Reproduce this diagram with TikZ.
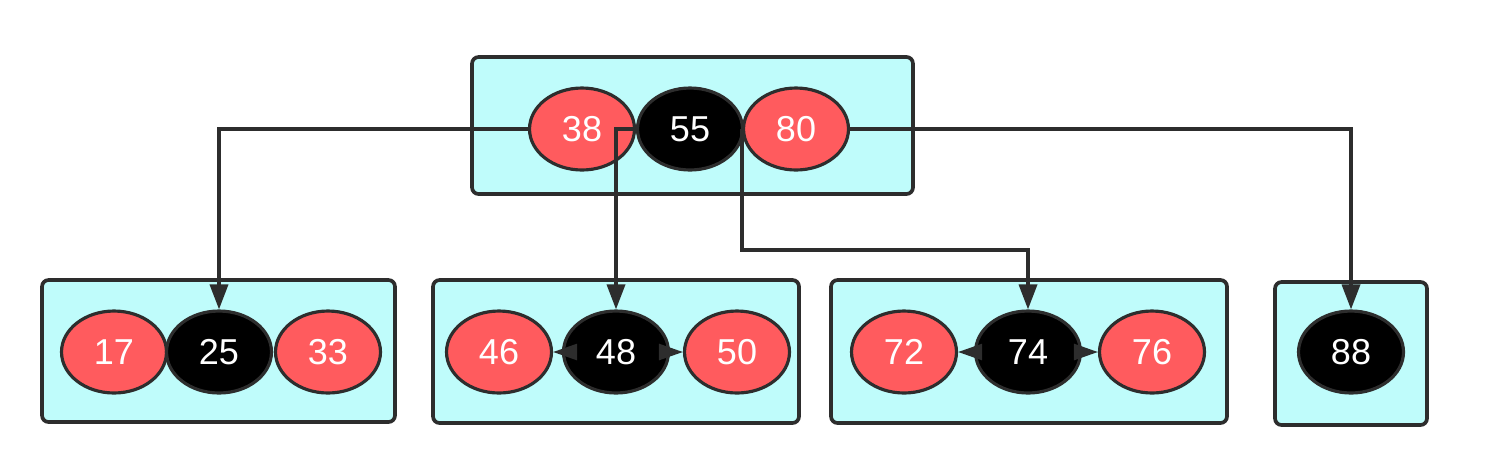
\documentclass[tikz,border=0pt]{standalone}
\usepackage{fontspec}
\setmainfont{Liberation Sans}
\usetikzlibrary{shapes.geometric,arrows.meta}
\definecolor{boxfill}{HTML}{BFFCFB}
\definecolor{redfill}{HTML}{FF5B5E}
\definecolor{stroke}{HTML}{2D2D2D}
\tikzset{
  box/.style={draw=stroke, fill=boxfill, line width=2.1pt, rounded corners=0.13cm, inner sep=0pt},
  key/.style={ellipse, draw=stroke, line width=1.8pt, minimum width=2.1cm, minimum height=1.64cm, inner sep=0pt, text=white, font=\fontsize{20.5}{24}\selectfont},
  redkey/.style={key, fill=redfill},
  blackkey/.style={key, fill=black},
  conn/.style={draw=stroke, line width=2pt, -{Triangle[length=0.5cm,width=0.36cm]}},
  sib/.style={draw=stroke, line width=1.5pt, -{Triangle[length=0.48cm,width=0.32cm]}}
}
\begin{document}
\begin{tikzpicture}[x=0.02cm,y=-0.02cm]
\useasboundingbox (0,0) rectangle (1486,468);
% boxes
\node[box, minimum width=8.82cm, minimum height=2.74cm] (top) at (692.5,125.5) {};
\node[box, minimum width=7.06cm, minimum height=2.84cm] (b1) at (218.5,351) {};
\node[box, minimum width=7.32cm, minimum height=2.86cm] (b2) at (616,351.5) {};
\node[box, minimum width=7.92cm, minimum height=2.86cm] (b3) at (1029,351.5) {};
\node[box, minimum width=3.04cm, minimum height=2.86cm] (b4) at (1351,353.5) {};
% top keys
\node[redkey] (n38) at (582,129) {38};
\node[blackkey] (n55) at (690,129) {55};
\node[redkey] (n80) at (796,129) {80};
% bottom keys
\node[redkey] (n17) at (114,352) {17};
\node[blackkey] (n25) at (219,352) {25};
\node[redkey] (n33) at (328,352) {33};
\node[redkey] (n46) at (499,352) {46};
\node[blackkey] (n48) at (616,352) {48};
\node[redkey] (n50) at (737,352) {50};
\node[redkey] (n72) at (904,352) {72};
\node[blackkey] (n74) at (1028,352) {74};
\node[redkey] (n76) at (1152,352) {76};
\node[blackkey] (n88) at (1351,352) {88};
% connectors
\coordinate (k) at (743,250);
\draw[conn] (n38.west) -| (n25.north);
\draw[conn] (n38.east) -| (n48.north);
\draw[conn] (n80.west) -- (n80.west |- k) -| (n74.north);
\draw[conn] (n80.east) -| (n88.north);
\draw[sib] (n48.west) -- (n46.east);
\draw[sib] (n48.east) -- (n50.west);
\draw[sib] (n74.west) -- (n72.east);
\draw[sib] (n74.east) -- (n76.west);
\end{tikzpicture}
\end{document}
